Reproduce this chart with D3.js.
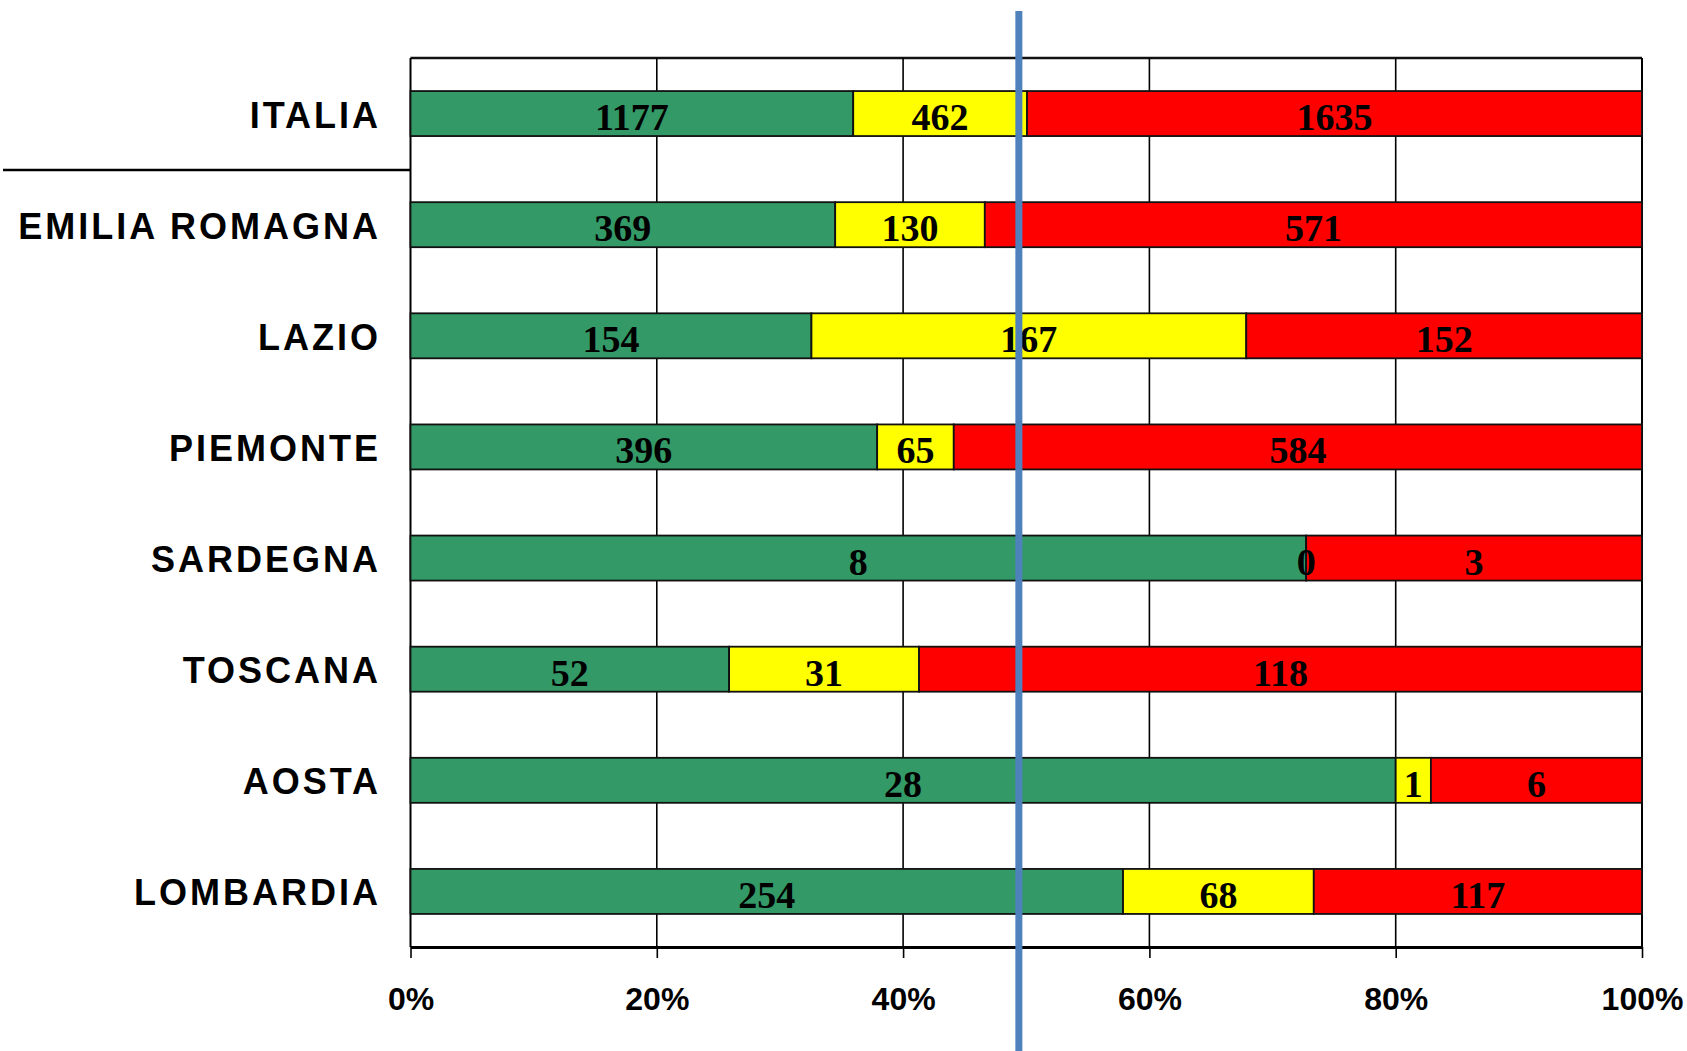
<!DOCTYPE html>
<html>
<head>
<meta charset="utf-8">
<script src="https://cdn.jsdelivr.net/npm/d3@7"></script>
<style>
  html, body { margin: 0; padding: 0; background: #ffffff; }
  svg { display: block; }
</style>
</head>
<body>
<svg id="chart" width="1687" height="1051"></svg>
<script>
// Regions, top to bottom
const categories = ["ITALIA", "EMILIA ROMAGNA", "LAZIO", "PIEMONTE", "SARDEGNA", "TOSCANA", "AOSTA", "LOMBARDIA"];
// Counts per region for the three groups
const greenValues  = [1177, 369, 154, 396, 8, 52, 28, 254];
const yellowValues = [462, 130, 167, 65, 0, 31, 1, 68];
const redValues    = [1635, 571, 152, 584, 3, 118, 6, 117];
// Percentage axis ticks
const tickValues = [0, 20, 40, 60, 80, 100];
// Position of the vertical reference line, in percent
const referenceLine = 49.4;

const seriesKeys = ["green", "yellow", "red"];
const seriesColors = { green: "#339966", yellow: "#FFFF00", red: "#FF0000" };

const rows = categories.map((c, i) => ({
  region: c,
  green: greenValues[i],
  yellow: yellowValues[i],
  red: redValues[i]
}));

const svg = d3.select("#chart");

const x = d3.scaleLinear().domain([0, 100]).range([410.5, 1642]);
const y = d3.scaleBand().domain(categories).range([58, 947])
  .paddingInner(0.595).paddingOuter(0.2975);

const stacked = d3.stack().keys(seriesKeys).offset(d3.stackOffsetExpand)(rows);

// Frame: top border and vertical gridlines
svg.append("line")
  .attr("x1", x(0)).attr("x2", x(100))
  .attr("y1", 58).attr("y2", 58)
  .attr("stroke", "#111").attr("stroke-width", 2.5);

svg.append("g").selectAll("line")
  .data(tickValues)
  .join("line")
  .attr("x1", d => x(d)).attr("x2", d => x(d))
  .attr("y1", 58).attr("y2", 947)
  .attr("stroke", "#000")
  .attr("stroke-width", d => (d === 0 || d === 100) ? 2 : 1.6);

// Separator under the national total
svg.append("line")
  .attr("x1", 3).attr("x2", x(0))
  .attr("y1", 170).attr("y2", 170)
  .attr("stroke", "#000").attr("stroke-width", 2.5);

// Stacked bars
const layers = svg.append("g").selectAll("g")
  .data(stacked)
  .join("g")
  .attr("fill", d => seriesColors[d.key]);

layers.selectAll("rect")
  .data(d => d)
  .join("rect")
  .attr("x", d => x(d[0] * 100))
  .attr("width", d => x(d[1] * 100) - x(d[0] * 100))
  .attr("y", d => y(d.data.region))
  .attr("height", y.bandwidth())
  .attr("stroke", "#111")
  .attr("stroke-width", 1.8);

// Value labels centred in each segment
const labelGroup = svg.append("g")
  .attr("font-family", "'Liberation Serif', 'Times New Roman', serif")
  .attr("font-weight", "bold")
  .attr("font-size", 38)
  .attr("fill", "#000")
  .attr("text-anchor", "middle");

stacked.forEach(layer => {
  labelGroup.selectAll(null)
    .data(layer)
    .join("text")
    .attr("x", d => x((d[0] + d[1]) / 2 * 100))
    .attr("y", d => y(d.data.region) + y.bandwidth() - 6)
    .text(d => d.data[layer.key]);
});

// Region names
const spacing = 3;
svg.append("g").selectAll("text")
  .data(categories)
  .join("text")
  .attr("x", 378 + spacing)
  .attr("y", d => y(d) + y.bandwidth() / 2 + 14)
  .attr("text-anchor", "end")
  .attr("font-family", "'Liberation Sans', Arial, sans-serif")
  .attr("font-weight", "bold")
  .attr("font-size", 36)
  .attr("letter-spacing", spacing)
  .attr("fill", "#000")
  .text(d => d);

// Percentage axis
const axis = svg.append("g")
  .attr("transform", "translate(0,947)")
  .call(d3.axisBottom(x).tickValues(tickValues).tickFormat(d => d + "%").tickSize(11).tickSizeOuter(0));

axis.select(".domain").attr("stroke", "#000").attr("stroke-width", 2.8);
axis.selectAll(".tick line").attr("stroke", "#000").attr("stroke-width", 1.6);
axis.selectAll(".tick text")
  .attr("y", 63)
  .attr("dy", 0)
  .attr("font-family", "'Liberation Sans', Arial, sans-serif")
  .attr("font-weight", "bold")
  .attr("font-size", 32)
  .attr("fill", "#000");

// Vertical reference line
svg.append("line")
  .attr("x1", x(referenceLine)).attr("x2", x(referenceLine))
  .attr("y1", 11).attr("y2", 1051)
  .attr("stroke", "#4F81BD")
  .attr("stroke-width", 7);
</script>
</body>
</html>
